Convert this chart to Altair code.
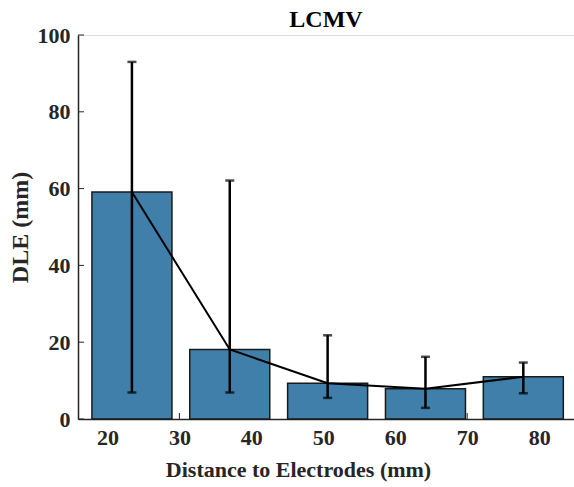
import altair as alt
import pandas as pd

# ---- data ----
centers = [23.4, 37.0, 50.6, 64.2, 77.8]          # bar centres (mm)
means = [59.1, 18.1, 9.3, 7.9, 11.0]              # mean DLE (mm)
upper = [93.0, 62.1, 21.8, 16.2, 14.7]            # error bar top
lower = [6.9, 6.9, 5.5, 2.9, 6.7]                 # error bar bottom
x_ticks = [20, 30, 40, 50, 60, 70, 80]
y_ticks = [0, 20, 40, 60, 80, 100]

W, H = 496, 384
FONT = "Liberation Serif"
AX = "#262626"

df = pd.DataFrame({"x": centers, "m": means, "hi": upper, "lo": lower})
dx = pd.DataFrame({"t": x_ticks})
dy = pd.DataFrame({"t": y_ticks})

xscale = alt.Scale(domain=[16.6, 84.15], nice=False, zero=False)
yscale = alt.Scale(domain=[0, 100], nice=False)

xaxis = alt.Axis(values=x_ticks, title="Distance to Electrodes (mm)", grid=False,
                 ticks=False, tickSize=0, domainColor=AX, domainWidth=1.5,
                 labelFont=FONT, labelFontSize=22, labelFontWeight="bold", labelColor=AX,
                 labelPadding=8, titleFont=FONT, titleFontSize=22, titleFontWeight="bold",
                 titleColor=AX, titlePadding=11, titleX=220)
yaxis = alt.Axis(values=y_ticks, title="DLE (mm)", grid=False, ticks=False, tickSize=0,
                 domainColor=AX, domainWidth=1.5, labelFont=FONT, labelFontSize=22,
                 labelFontWeight="bold", labelColor=AX, labelPadding=8,
                 titleFont=FONT, titleFontSize=24, titleFontWeight="bold",
                 titleColor=AX, titlePadding=5)

xticks_in = alt.Chart(dx).mark_rule(color=AX, strokeWidth=1).encode(
    x=alt.X("t:Q", scale=xscale, axis=xaxis), y=alt.value(H), y2=alt.value(H - 6))
yticks_in = alt.Chart(dy).mark_rule(color=AX, strokeWidth=1).encode(
    y=alt.Y("t:Q", scale=yscale, axis=yaxis), x=alt.value(0), x2=alt.value(6))

bars = alt.Chart(df).mark_bar(size=80, color="#3f7fa9", stroke="#1a1a1a", strokeWidth=1.5).encode(
    x=alt.X("x:Q", scale=xscale), y=alt.Y("m:Q", scale=yscale))

err = alt.Chart(df).mark_rule(color="black", strokeWidth=2.5).encode(
    x=alt.X("x:Q", scale=xscale), y=alt.Y("lo:Q", scale=yscale), y2="hi:Q")
cap_hi = alt.Chart(df).mark_tick(orient="horizontal", size=9, thickness=2.5, color="black").encode(
    x=alt.X("x:Q", scale=xscale), y=alt.Y("hi:Q", scale=yscale))
cap_lo = alt.Chart(df).mark_tick(orient="horizontal", size=9, thickness=2.5, color="black").encode(
    x=alt.X("x:Q", scale=xscale), y=alt.Y("lo:Q", scale=yscale))

line = alt.Chart(df).mark_line(color="black", strokeWidth=2).encode(
    x=alt.X("x:Q", scale=xscale), y=alt.Y("m:Q", scale=yscale))

chart = alt.layer(xticks_in, yticks_in, bars, err, cap_hi, cap_lo, line).properties(
    width=W, height=H,
    title=alt.TitleParams("LCMV", font=FONT, fontSize=24, fontWeight="bold",
                          color="black", anchor="middle", offset=9, dy=17),
    autosize=alt.AutoSizeParams(type="none"),
    padding={"left": 78, "top": 35, "right": 0, "bottom": 68},
).configure_view(fill="#f0f0f0", stroke="transparent").configure(background="white")

chart.save("out.html", embed_options={"renderer": "svg", "actions": False})
